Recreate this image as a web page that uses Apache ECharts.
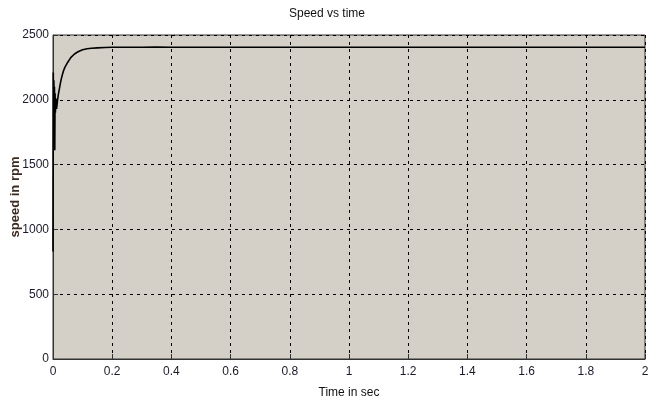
<!DOCTYPE html>
<html><head><meta charset="utf-8">
<script src="https://cdn.jsdelivr.net/npm/echarts@6/dist/echarts.min.js"></script>
<style>html,body{margin:0;padding:0;background:#fff}#c{width:648px;height:406px}</style>
</head><body><div id="c"></div>
<script>
const chartTitle = 'Speed vs time';
const xName = 'Time in sec';
const yName = 'speed in rpm';
const timeValues = [0, 0.001, 0.002, 0.003, 0.004, 0.005, 0.006, 0.007, 0.008, 0.010, 0.012, 0.015, 0.018, 0.022, 0.026, 0.030, 0.035, 0.040, 0.050, 0.060, 0.070, 0.080, 0.090, 0.100, 0.115, 0.130, 0.150, 0.175, 0.200, 0.25, 0.30, 0.35, 0.40, 0.50, 0.60, 0.70, 0.80, 0.90, 1.00, 1.20, 1.40, 1.60, 1.80, 2.00];
const speedValues = [830, 2210, 1660, 2150, 1700, 2100, 1610, 2050, 1900, 2010, 1930, 1990, 2040, 2090, 2140, 2180, 2220, 2250, 2290, 2325, 2348, 2365, 2377, 2386, 2394, 2398, 2401, 2403, 2405, 2406, 2405, 2407, 2406, 2406, 2405, 2406, 2406, 2405, 2406, 2406, 2405, 2406, 2405, 2406];
const xTicks = [0, 0.2, 0.4, 0.6, 0.8, 1, 1.2, 1.4, 1.6, 1.8, 2];
const yTicks = [0, 500, 1000, 1500, 2000, 2500];

const data = timeValues.map((t, i) => [t, speedValues[i]]);
const chart = echarts.init(document.getElementById('c'), null, {renderer: 'canvas'});
const fontFam = '"Liberation Sans Narrow", "Liberation Sans", Arial, sans-serif';
chart.setOption({
  animation: false,
  title: {text: chartTitle, left: 322, top: 3, textAlign: 'center',
    textStyle: {fontFamily: fontFam, fontSize: 12, fontWeight: 'normal', color: '#111'}},
  grid: {left: 53, right: 3, top: 35, bottom: 47, show: true, backgroundColor: '#d4d0c8', borderColor: '#333', borderWidth: 1, outerBoundsMode: 'none', containLabel: false},
  xAxis: {
    type: 'value', min: 0, max: 2, interval: 0.2,
    name: xName, nameLocation: 'middle', nameGap: 28,
    nameTextStyle: {fontFamily: fontFam, fontSize: 12, color: '#111'},
    axisLine: {show: true, lineStyle: {color: '#333'}},
    axisTick: {show: true, inside: true, length: 5, lineStyle: {color: '#333'}},
    axisLabel: {fontFamily: fontFam, fontSize: 12, color: '#1a1a2a', margin: 7,
      formatter: v => xTicks.includes(Math.round(v*10)/10) ? String(Math.round(v*10)/10) : ''},
    splitLine: {show: true, lineStyle: {color: '#000', type: [3, 4], width: 1}}
  },
  yAxis: {
    type: 'value', min: 0, max: 2500, interval: 500,
    name: yName, nameLocation: 'middle', nameGap: 31, nameRotate: 90, nameMoveOverlap: false,
    nameTextStyle: {fontFamily: '"Liberation Sans", Arial, sans-serif', fontSize: 13, fontWeight: 'bold', color: '#3a2a20'},
    axisLine: {show: true, lineStyle: {color: '#333'}},
    axisTick: {show: true, inside: true, length: 5, lineStyle: {color: '#333'}},
    axisLabel: {fontFamily: fontFam, fontSize: 12, color: '#1a1a2a', margin: 4,
      formatter: v => yTicks.includes(v) ? String(v) : ''},
    splitLine: {show: true, lineStyle: {color: '#000', type: [3, 4], width: 1}}
  },
  series: [{
    type: 'line', data: data, showSymbol: false, symbol: 'none',
    lineStyle: {color: '#000', width: 1.6}, z: 5
  }]
});
</script></body></html>
